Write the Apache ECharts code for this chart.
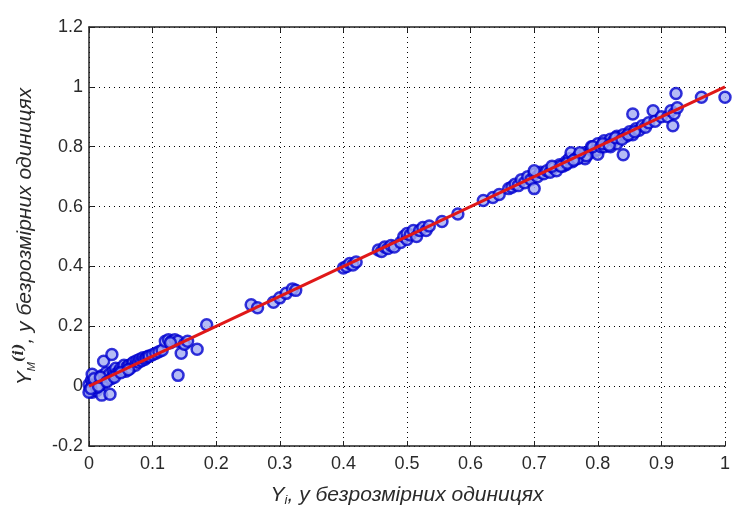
<!DOCTYPE html>
<html>
<head>
<meta charset="utf-8">
<script src="https://cdn.jsdelivr.net/npm/echarts@6/dist/echarts.min.js"></script>
<style>
  html, body { margin: 0; padding: 0; background: #fff; }
  #chart { width: 733px; height: 512px; }
</style>
</head>
<body>
<div id="chart"></div>
<script>
// tick labels
const xTicks = ['0', '0.1', '0.2', '0.3', '0.4', '0.5', '0.6', '0.7', '0.8', '0.9', '1']
const yTicks = ['-0.2', '0', '0.2', '0.4', '0.6', '0.8', '1', '1.2']

// measured Y_i values
const yObserved = [
  0, 0.002, 0.004, 0.005, 0.006, 0.008, 0.01, 0.012, 0.013, 0.015, 0.017, 0.02, 0.022, 0.025, 0.027,
  0.03, 0.032, 0.035, 0.038, 0.04, 0.042, 0.045, 0.048, 0.05, 0.053, 0.055, 0.058, 0.06, 0.063, 0.065,
  0.068, 0.07, 0.073, 0.075, 0.078, 0.08, 0.083, 0.085, 0.088, 0.09, 0.093, 0.095, 0.1,
  0.023, 0.036, 0.02, 0.033, 0.0, 0.005, 0.012, 0.003, 0.008, 0.015, 0.018, 0.028, 0.04, 0.05, 0.062,
  0.105, 0.11, 0.115, 0.12, 0.125, 0.13, 0.135, 0.14, 0.145, 0.14, 0.17, 0.185, 0.15, 0.155, 0.128,
  0.255, 0.265, 0.29, 0.3, 0.31, 0.32, 0.325,
  0.4, 0.405, 0.41, 0.415, 0.42,
  0.455, 0.46, 0.465, 0.47, 0.475, 0.48,
  0.49, 0.495, 0.5, 0.5, 0.505, 0.51, 0.515, 0.52, 0.525, 0.53, 0.535,
  0.555, 0.58, 0.62, 0.635, 0.645,
  0.66, 0.665, 0.67, 0.675, 0.68, 0.685, 0.69, 0.695, 0.7, 0.7, 0.705, 0.71, 0.715, 0.72, 0.7,
  0.725, 0.73, 0.735, 0.74, 0.745, 0.75, 0.75, 0.755, 0.758, 0.76, 0.765, 0.77, 0.775, 0.78, 0.785,
  0.79, 0.79, 0.795, 0.8, 0.8, 0.78, 0.8, 0.728, 0.742, 0.752, 0.768, 0.782, 0.792, 0.772, 0.762,
  0.805, 0.81, 0.81, 0.815, 0.82, 0.82, 0.825, 0.83, 0.83, 0.835, 0.84, 0.84, 0.845, 0.85, 0.855,
  0.855, 0.86, 0.865, 0.87, 0.875, 0.887, 0.88, 0.89, 0.9, 0.808, 0.818, 0.828, 0.838, 0.848, 0.858,
  0.91, 0.915, 0.918, 0.92, 0.923, 0.925, 0.963, 1.0
]

// model Y_M(i) values
const yModel = [
  0.005, -0.01, 0.02, -0.02, 0.01, 0.0, 0.03, -0.015, 0.015, 0.02, 0.005, 0.035, 0.01, 0.02, 0.045,
  0.03, 0.04, 0.025, 0.05, 0.04, 0.06, 0.045, 0.05, 0.06, 0.055, 0.07, 0.05, 0.065, 0.07, 0.06,
  0.075, 0.08, 0.07, 0.085, 0.08, 0.09, 0.085, 0.095, 0.09, 0.095, 0.1, 0.1, 0.105,
  0.083, 0.106, -0.03, -0.027, -0.02, 0.04, -0.005, -0.008, 0.025, 0.0, 0.03, 0.015, 0.03, 0.045, 0.055,
  0.11, 0.115, 0.12, 0.15, 0.155, 0.15, 0.155, 0.15, 0.11, 0.036, 0.123, 0.205, 0.14, 0.15, 0.145,
  0.272, 0.262, 0.28, 0.295, 0.31, 0.325, 0.32,
  0.395, 0.4, 0.41, 0.405, 0.415,
  0.455, 0.45, 0.465, 0.46, 0.47, 0.465,
  0.48, 0.5, 0.49, 0.51, 0.505, 0.52, 0.5, 0.52, 0.53, 0.52, 0.535,
  0.55, 0.575, 0.62, 0.63, 0.64,
  0.66, 0.665, 0.675, 0.67, 0.69, 0.68, 0.7, 0.69, 0.71, 0.66, 0.7, 0.715, 0.71, 0.72, 0.72,
  0.715, 0.73, 0.72, 0.74, 0.735, 0.75, 0.74, 0.76, 0.78, 0.75, 0.76, 0.77, 0.765, 0.78, 0.775,
  0.79, 0.8, 0.785, 0.81, 0.79, 0.76, 0.775, 0.735, 0.735, 0.745, 0.76, 0.77, 0.8, 0.78, 0.755,
  0.8, 0.82, 0.8, 0.81, 0.825, 0.8, 0.82, 0.835, 0.81, 0.83, 0.84, 0.773, 0.835, 0.85, 0.909,
  0.84, 0.86, 0.855, 0.87, 0.865, 0.92, 0.88, 0.885, 0.9, 0.81, 0.805, 0.83, 0.825, 0.84, 0.85,
  0.9, 0.92, 0.87, 0.91, 0.978, 0.93, 0.965, 0.965
]

// fitted line y = x
const lineX = [0, 1]
const lineY = [0, 1]

const points = yObserved.map((x, i) => [x, yModel[i]])
const linePoints = lineX.map((x, i) => [x, lineY[i]])

const chart = echarts.init(document.getElementById('chart'))

const font = 'Liberation Sans, Arial, sans-serif'
const textColor = '#2a2a2a'

chart.setOption({
  backgroundColor: '#fff',
  animation: false,
  grid: {
    left: 89,
    right: 2,
    top: 27,
    bottom: 63
  },
  xAxis: [
    {
      type: 'value',
      min: 0,
      max: 1,
      interval: 0.1,
      axisLine: { show: true, onZero: false, lineStyle: { color: '#222', width: 1.5 } },
      axisTick: { show: true, inside: true, length: 5, lineStyle: { color: '#222' } },
      axisLabel: {
        fontFamily: font,
        fontSize: 18,
        color: textColor,
        margin: 9,
        formatter: (v) => xTicks[Math.round(v * 10)]
      },
      splitLine: { show: true, lineStyle: { color: '#000', type: [1, 4], width: 1 } },
      name: '{it|Y}{sub|i}{it|, у безрозмірних одиницях}',
      nameLocation: 'middle',
      nameGap: 37,
      nameTextStyle: {
        rich: {
          it: { fontFamily: font, fontStyle: 'italic', fontSize: 21, color: textColor },
          sub: { fontFamily: font, fontStyle: 'italic', fontSize: 13, color: textColor, padding: [11, 0, 0, 0] }
        }
      }
    },
    {
      type: 'value',
      position: 'top',
      min: 0,
      max: 1,
      interval: 0.1,
      axisLine: { show: true, onZero: false, lineStyle: { color: '#222', width: 1.5 } },
      axisTick: { show: true, inside: true, length: 5, lineStyle: { color: '#222' } },
      axisLabel: { show: false },
      splitLine: { show: false }
    }
  ],
  yAxis: {
    type: 'value',
    min: -0.2,
    max: 1.2,
    interval: 0.2,
    axisLine: { show: true, onZero: false, lineStyle: { color: '#222', width: 1.5 } },
    axisTick: { show: true, inside: true, length: 5, lineStyle: { color: '#222' } },
    axisLabel: {
      fontFamily: font,
      fontSize: 18,
      color: textColor,
      margin: 6,
      formatter: (v) => yTicks[Math.round((v + 0.2) * 5)]
    },
    splitLine: { show: true, lineStyle: { color: '#000', type: [1, 4], width: 1 } },
    name: '{it|Y}{sub|M}{sup|(i)}{it|, у безрозмірних одиницях}',
    nameLocation: 'middle',
    nameGap: 51,
    nameTextStyle: {
      rich: {
        it: { fontFamily: font, fontStyle: 'italic', fontSize: 21, color: textColor },
        sub: { fontFamily: font, fontStyle: 'italic', fontSize: 11, color: textColor, padding: [13, 0, 0, 0] },
        sup: { fontFamily: 'DejaVu Serif, serif', fontStyle: 'italic', fontWeight: 'bold', fontSize: 14, color: textColor, padding: [0, 0, 12, 0] }
      }
    }
  },
  series: [
    {
      name: 'points',
      type: 'scatter',
      data: points,
      symbol: 'circle',
      symbolSize: 11,
      itemStyle: {
        color: '#a3abf2',
        borderColor: '#0000d0',
        borderWidth: 2.5
      },
      z: 2
    },
    {
      name: 'fit',
      type: 'line',
      data: linePoints,
      showSymbol: false,
      lineStyle: { color: '#e01818', width: 3 },
      z: 3
    }
  ]
})
</script>
</body>
</html>
